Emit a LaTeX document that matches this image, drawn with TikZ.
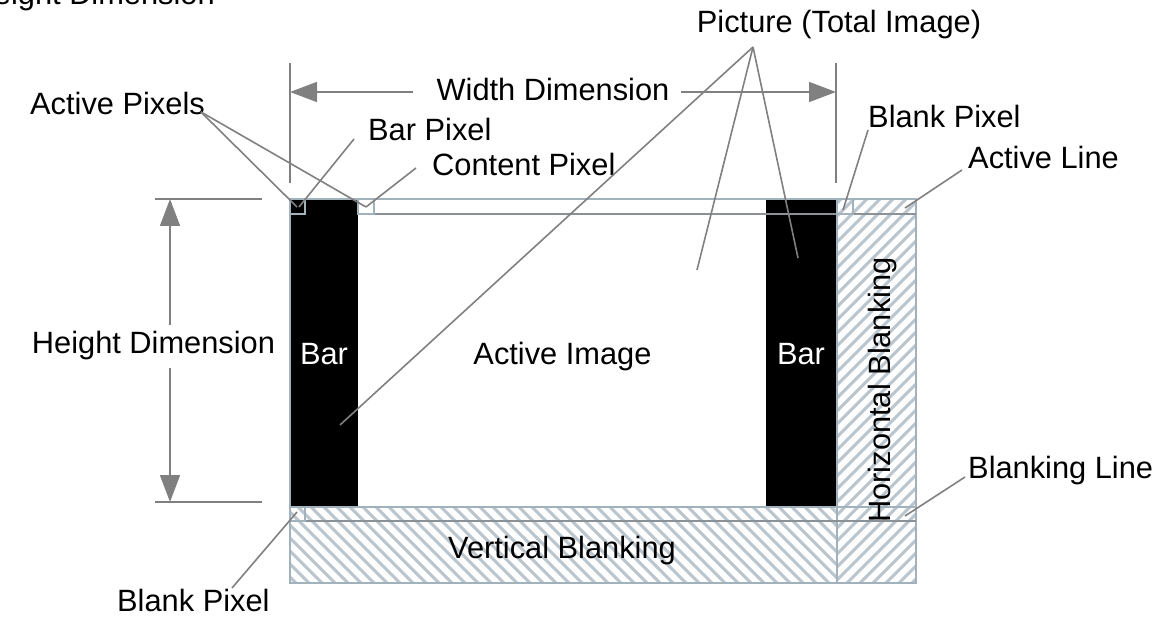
\documentclass[tikz,border=0pt]{standalone}
\usepackage{fontspec}
\setmainfont{Liberation Sans}
\usetikzlibrary{arrows.meta}
\definecolor{framecol}{RGB}{162,178,188}
\definecolor{hatchcol}{RGB}{186,197,206}
\definecolor{leadcol}{RGB}{128,128,128}
\definecolor{innercol}{RGB}{138,146,152}
\begin{document}
\begin{tikzpicture}[x=1pt,y=-1pt,
  font=\fontsize{30.8}{37}\selectfont,
  lbl/.style={inner sep=0pt,anchor=base},
  lblw/.style={inner sep=0pt,anchor=base west},
  leader/.style={draw=leadcol,line width=1.6pt},
  dimline/.style={draw=leadcol,line width=1.6pt},
  dimarrow/.style={draw=leadcol,line width=1.6pt,-{Triangle[length=27pt,width=20pt,fill=leadcol]}},
  framelin/.style={draw=framecol,line width=2pt},
  innerlin/.style={draw=innercol,line width=1.8pt},
  hatchlin/.style={draw=hatchcol,line width=3pt}]
\useasboundingbox (0,0) rectangle (1164,617);

% black bars
\fill[black] (290,199) rectangle (358,507);
\fill[black] (766,199) rectangle (836,507);

% hatch: vertical blanking (north west lines)
\begin{scope}
  \clip (290,507) rectangle (837,583);
  \foreach \x in {200,213,...,850} \draw[hatchlin] (\x,500) -- (\x+90,590);
\end{scope}
% hatch: horizontal blanking (north east lines)
\begin{scope}
  \clip (837,199) rectangle (916,583);
  \foreach \x in {450,463,...,930} \draw[hatchlin] (\x,590) -- (\x+400,190);
\end{scope}

% frame
\draw[framelin] (290,199) rectangle (916,583);
\draw[framelin] (837,199) -- (837,583);
\draw[framelin] (290,507) -- (916,507);
\draw[innerlin] (358,214) -- (916,214);
\draw[innerlin] (290,521) -- (916,521);
% pixel squares
\draw[framelin] (290,199) rectangle (305,214);
\draw[framelin] (358,199) rectangle (374,214);
\draw[framelin] (837,199) rectangle (853,214);
\draw[framelin] (290,507) rectangle (305,521);

% dimension extension lines
\coordinate (wl1) at (290,63); \coordinate (wl2) at (290,183);
\coordinate (wr1) at (836,63); \coordinate (wr2) at (836,183);
\draw[dimline] (wl1) -- (wl2);
\draw[dimline] (wr1) -- (wr2);
\coordinate (ht1) at (155,199); \coordinate (ht2) at (262,199);
\coordinate (hb1) at (155,502); \coordinate (hb2) at (262,502);
\draw[dimline] (ht1) -- (ht2);
\draw[dimline] (hb1) -- (hb2);

% texts
\node[lbl] (hdim) at (153.5,354) {Height Dimension};
\node[lbl] (aimg) at (562.5,364) {Active Image};
\node[lbl,text=white] (barL) at (324,364) {Bar};
\node[lbl,text=white] (barR) at (801,364) {Bar};
\node[lbl] (wdim) at (553,101) {Width Dimension};
\node[lbl] (pic) at (839,33) {Picture (Total Image)};
\node[lblw] (apx) at (30,115) {Active Pixels};
\node[lblw] (bpx) at (368,141) {Bar Pixel};
\node[lblw] (cpx) at (432,176) {Content Pixel};
\node[lblw] (bkt) at (868,128) {Blank Pixel};
\node[lblw] (aln) at (968,169) {Active Line};
\node[lblw] (bln) at (968,478) {Blanking Line};
\node[lbl] (vbl) at (562,558) {Vertical Blanking};
\node[lblw] (bkb) at (117,611) {Blank Pixel};
\node[lbl,rotate=90] (hbl) at (890,390) {Horizontal Blanking};
\node[lbl,anchor=base east] (hcut) at (215,5) {Height Dimension};

% dimension arrows
\coordinate (wa1) at (413,92); \coordinate (wa2) at (290,92);
\coordinate (wb1) at (681,92); \coordinate (wb2) at (836,92);
\draw[dimarrow] (wa1) -- (wa2);
\draw[dimarrow] (wb1) -- (wb2);
\coordinate (ha1) at (170,325); \coordinate (ha2) at (170,199);
\coordinate (hb3) at (170,368); \coordinate (hb4) at (170,502);
\draw[dimarrow] (ha1) -- (ha2);
\draw[dimarrow] (hb3) -- (hb4);

% leader lines
\coordinate (apO) at (201,112);
\coordinate (bpT) at (297,207);
\coordinate (cpT) at (366,207);
\draw[leader] (apO) -- (bpT);
\draw[leader] (apO) -- (cpT);
\coordinate (bpO) at (354,139);
\coordinate (bpT2) at (299,207);
\draw[leader] (bpO) -- (bpT2);
\coordinate (cpO) at (416,168);
\coordinate (cpT2) at (366,207);
\draw[leader] (cpO) -- (cpT2);
\coordinate (picO) at (753,47);
\coordinate (picA) at (340,425);
\coordinate (picB) at (697,270);
\coordinate (picC) at (798,258);
\draw[leader] (picO) -- (picA);
\draw[leader] (picO) -- (picB);
\draw[leader] (picO) -- (picC);
\coordinate (bkO) at (868,130);
\coordinate (bkT) at (843,210);
\draw[leader] (bkO) -- (bkT);
\coordinate (alO) at (962,170);
\coordinate (alT) at (905,208);
\draw[leader] (alO) -- (alT);
\coordinate (blO) at (965,477);
\coordinate (blT) at (905,516);
\draw[leader] (blO) -- (blT);
\coordinate (bbO) at (232,588);
\coordinate (bbT) at (297,512);
\draw[leader] (bbO) -- (bbT);
\end{tikzpicture}
\end{document}
